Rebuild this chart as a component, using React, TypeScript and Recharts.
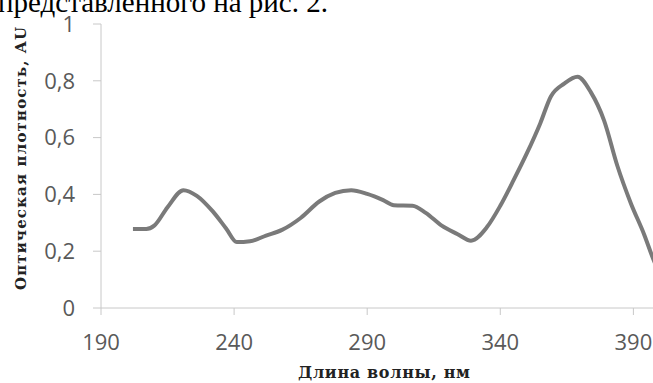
import React from 'react';
import { LineChart, Line, XAxis, YAxis, Label } from 'recharts';

const wavelengths = [202, 207, 210, 215, 221, 226, 232, 237, 241, 246, 252, 258, 265, 272, 278, 284, 290, 296, 300, 307, 312, 318, 324, 329, 335, 340, 345, 350, 355, 359, 364, 369, 374, 379, 384, 389, 394, 398, 400];
const absorbance = [0.278, 0.278, 0.29, 0.355, 0.415, 0.395, 0.34, 0.28, 0.232, 0.235, 0.255, 0.275, 0.317, 0.375, 0.405, 0.415, 0.402, 0.38, 0.362, 0.36, 0.335, 0.29, 0.26, 0.237, 0.285, 0.36, 0.45, 0.545, 0.65, 0.745, 0.79, 0.814, 0.76, 0.66, 0.5, 0.37, 0.26, 0.16, 0.12];
const xTicks = [190, 240, 290, 340, 390];
const yTicks = [0, 0.2, 0.4, 0.6, 0.8, 1];
const xTitle = 'Длина волны, нм';
const yTitle = 'Оптическая плотность, AU';
const pageText = 'представленного на рис. 2.';

const data = wavelengths.map((w, i) => ({ w, a: absorbance[i] }));

const tickStyle = { fill: '#595959', fontSize: 22, fontFamily: '"Open Sans", sans-serif' };
const titleFont = '"DejaVu Serif", serif';

export default function App() {
  return (
    <div style={{ position: 'absolute', left: 0, top: 0, width: 653, height: 383, overflow: 'hidden', background: '#fff' }}>
      <svg width={653} height={30} style={{ position: 'absolute', left: 0, top: 0 }}>
        <text x={-2} y={12} fontFamily='"Liberation Serif", serif' fontSize={30} fill="#000" textLength={330} lengthAdjust="spacingAndGlyphs">{pageText}</text>
      </svg>
      <div style={{ position: 'absolute', left: 0, top: 0 }}>
        <LineChart width={690} height={383} data={data} margin={{ top: 24, right: 30, bottom: 0, left: 0 }}>
          <XAxis
            type="number"
            dataKey="w"
            domain={[190, 400]}
            ticks={xTicks}
            allowDataOverflow
            height={75}
            tickSize={7}
            tickMargin={19}
            stroke="#c8c8c8"
            tick={tickStyle}
          >
            <Label
              content={() => (
                <text x={298} y={378} fontFamily={titleFont} fontWeight="bold" fontSize={16} fill="#222" textLength={172} lengthAdjust="spacing">
                  {xTitle}
                </text>
              )}
            />
          </XAxis>
          <YAxis
            type="number"
            domain={[0, 1]}
            ticks={yTicks}
            width={101}
            tickSize={8}
            tickMargin={18}
            stroke="#c8c8c8"
            tick={tickStyle}
            tickFormatter={(v: number) => String(v).replace('.', ',')}
          >
            <Label
              content={() => (
                <text x={0} y={0} transform="translate(26,290) rotate(-90)" fontFamily={titleFont} fontWeight="bold" fontSize={15} fill="#222" textLength={263} lengthAdjust="spacing">
                  {yTitle}
                </text>
              )}
            />
          </YAxis>
          <Line type="monotone" dataKey="a" stroke="#7a7a7a" strokeWidth={4} dot={false} isAnimationActive={false} />
        </LineChart>
      </div>
    </div>
  );
}
